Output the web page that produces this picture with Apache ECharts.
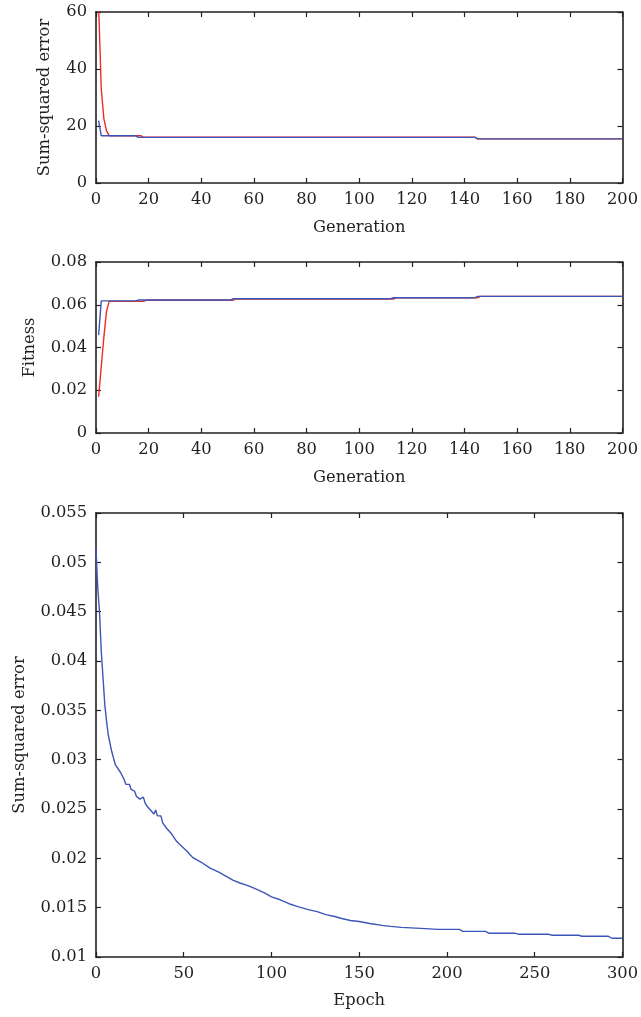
<!DOCTYPE html>
<html><head><meta charset="utf-8">
<script src="https://cdn.jsdelivr.net/npm/echarts@6/dist/echarts.min.js"></script>
<style>html,body{margin:0;padding:0;background:#fff;overflow:hidden}#c{width:641px;height:1017px}</style>
</head><body><div id="c"></div>
<script>
// ---- Data ----
// Chart 1: Sum-squared error vs Generation
const sseRedGen = [1, 2, 3, 4, 5, 17, 18, 144, 145, 200];
const sseRedVal = [62, 33, 22.5, 18.3, 16.6, 16.6, 16.05, 16.05, 15.5, 15.5];
const sseBlueGen = [1, 2, 15, 16, 144, 145, 200];
const sseBlueVal = [21.9, 16.6, 16.6, 16.0, 16.0, 15.5, 15.5];
// Chart 2: Fitness vs Generation
const fitRedGen = [1, 2, 3, 4, 5, 18, 19, 52, 53, 113, 114, 145, 146, 200];
const fitRedVal = [0.017, 0.031, 0.045, 0.057, 0.0616, 0.0616, 0.0621, 0.0621, 0.0627, 0.0627, 0.0632, 0.0632, 0.0639, 0.0639];
const fitBlueGen = [1, 2, 15, 16, 51, 52, 112, 113, 144, 145, 200];
const fitBlueVal = [0.0458, 0.0618, 0.0618, 0.0622, 0.0622, 0.0628, 0.0628, 0.0633, 0.0633, 0.0639, 0.0639];
// Chart 3: Sum-squared error vs Epoch
const epochs = [0, 1, 2, 3, 4, 5, 6, 7, 9, 11, 14, 16, 17, 19, 20, 22, 23, 25, 26, 27, 28, 29, 31, 33, 34, 35, 36, 37, 38, 40, 43, 46, 49, 52, 55, 60, 65, 70, 74, 78, 82, 87, 91, 96, 100, 105, 110, 115, 121, 126, 131, 136, 140, 145, 150, 156, 163, 168, 174, 185, 195, 207, 209, 222, 224, 239, 241, 258, 260, 275, 277, 292, 294, 300];
const sseEpoch = [0.0514, 0.0474, 0.0450, 0.0410, 0.0383, 0.0356, 0.0339, 0.0325, 0.0308, 0.0295, 0.0287, 0.0280, 0.0275, 0.0275, 0.0270, 0.0268, 0.0263, 0.0260, 0.0260, 0.0262, 0.0256, 0.0253, 0.0249, 0.0245, 0.0249, 0.0243, 0.0244, 0.0243, 0.0236, 0.0231, 0.0225, 0.0217, 0.0212, 0.0207, 0.0201, 0.0196, 0.0190, 0.0186, 0.0182, 0.0178, 0.0175, 0.0172, 0.0169, 0.0165, 0.0161, 0.0158, 0.0154, 0.0151, 0.0148, 0.0146, 0.0143, 0.0141, 0.0139, 0.0137, 0.0136, 0.0134, 0.0132, 0.0131, 0.0130, 0.0129, 0.0128, 0.0128, 0.0126, 0.0126, 0.0124, 0.0124, 0.0123, 0.0123, 0.0122, 0.0122, 0.0121, 0.0121, 0.0119, 0.0119];
// Tick settings
const genTicks = {min: 0, max: 200, interval: 20};
const sseTicks = {min: 0, max: 60, interval: 20};
const fitTicks = {min: 0, max: 0.08, interval: 0.02};
const epochTicks = {min: 0, max: 300, interval: 50};
const sse2Ticks = {min: 0.01, max: 0.055, interval: 0.005};

const zip = (a, b) => a.map((v, i) => [v, b[i]]);
const RED = '#ee2a2a', BLUE = '#3b56b8', INK = '#231f20';
const FONT = 'DejaVu Serif';
const txt = {fontFamily: FONT, fontSize: 16.3, color: INK};

function fmtDec(v) { return String(+v.toFixed(4)); }

const grids = [
  {left: 96, width: 530, top: 12, height: 171},
  {left: 96, width: 530, top: 262, height: 171},
  {left: 96, width: 530, top: 513, height: 444}
];
const xAxes = [], yAxes = [];
function addPanel(gi, xt, yt, xName, yName, yGap, xGap, yFmt) {
  const base = {
    gridIndex: gi, type: 'value',
    axisLine: {show: true, onZero: false, lineStyle: {color: INK, width: 1.6}},
    axisTick: {show: true, inside: true, length: 5, lineStyle: {color: INK, width: 1.2}},
    splitLine: {show: false}
  };
  xAxes.push({...base, ...xt, position: 'bottom', name: xName, nameLocation: 'middle', nameGap: xGap,
    nameTextStyle: txt, axisLabel: {...txt, margin: 9}});
  xAxes.push({...base, ...xt, position: 'top', axisLabel: {show: false}});
  yAxes.push({...base, ...yt, position: 'left', name: yName, nameLocation: 'middle', nameGap: yGap,
    nameTextStyle: txt, axisLabel: {...txt, margin: 9, formatter: yFmt}});
  yAxes.push({...base, ...yt, position: 'right', axisLabel: {show: false}});
}
addPanel(0, genTicks, sseTicks, 'Generation', 'Sum-squared error', 43, 37, v => String(v));
addPanel(1, genTicks, fitTicks, 'Generation', 'Fitness', 58, 37, fmtDec);
addPanel(2, epochTicks, sse2Ticks, 'Epoch', 'Sum-squared error', 68, 36, fmtDec);

function line(xi, yi, data, color) {
  return {type: 'line', xAxisIndex: xi, yAxisIndex: yi, data, showSymbol: false, symbol: 'none',
    lineStyle: {color, width: 1.4}, itemStyle: {color}, silent: true, animation: false, clip: true};
}
const series = [
  line(0, 0, zip(sseRedGen, sseRedVal), RED),
  line(0, 0, zip(sseBlueGen, sseBlueVal), BLUE),
  line(2, 2, zip(fitRedGen, fitRedVal), RED),
  line(2, 2, zip(fitBlueGen, fitBlueVal), BLUE),
  line(4, 4, zip(epochs, sseEpoch), BLUE)
];

const chart = echarts.init(document.getElementById('c'), null, {renderer: 'canvas'});
chart.setOption({animation: false, backgroundColor: '#fff', grid: grids, xAxis: xAxes, yAxis: yAxes, series});
</script></body></html>
